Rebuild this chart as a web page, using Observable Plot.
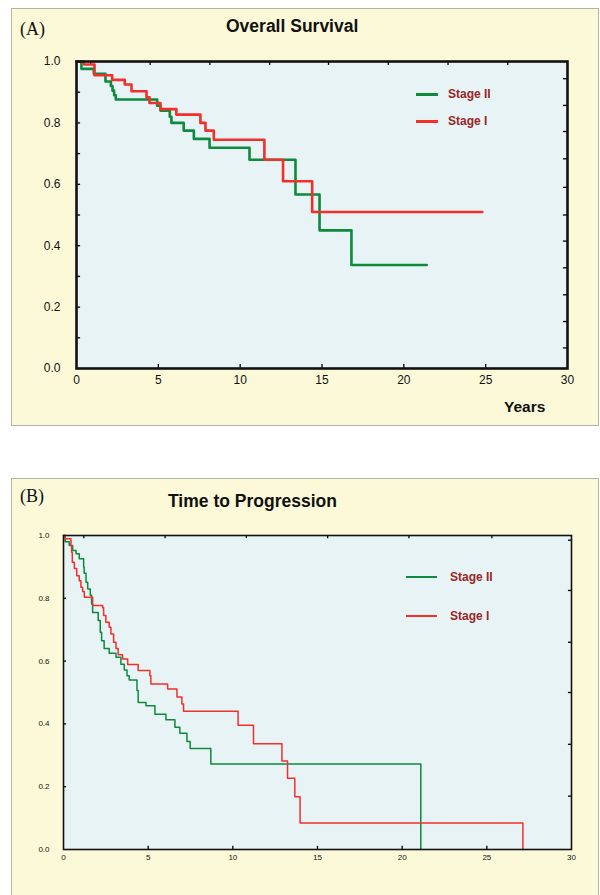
<!DOCTYPE html>
<html><head><meta charset="utf-8">
<script src="https://cdn.jsdelivr.net/npm/d3@7"></script>
<script src="https://cdn.jsdelivr.net/npm/@observablehq/plot@0.6"></script>
<style>
body{margin:0;background:#fff;}
#page{position:relative;width:600px;height:895px;overflow:hidden;font-family:"Liberation Sans",Arial,sans-serif;}
.panel{position:absolute;background:#fcf9d8;border:1px solid #b4b4a8;box-sizing:border-box;}
.lbl{position:absolute;font-family:"Liberation Serif","Times New Roman",serif;font-size:18px;line-height:20px;color:#111;}
.ttl{position:absolute;font-weight:bold;font-size:17.5px;line-height:20px;color:#111;}
.yrs{position:absolute;font-weight:bold;font-size:15.5px;line-height:18px;color:#111;}
.leg{position:absolute;height:16px;font-weight:bold;font-size:12px;color:#9a2626;display:flex;align-items:center;white-space:nowrap;}
.leg .sw{display:inline-block;height:0;border-top-style:solid;}
svg.p{position:absolute;left:0;overflow:visible;}
</style></head>
<body><div id="page"></div>
<script>
// ---------- data ----------
const seriesNames = ["Stage II", "Stage I"];
const green = "#0e8a3e", red = "#f2302b";

// (A) Overall Survival
const osStageII_t = [0, 0.3, 1.06, 1.77, 2.1, 2.2, 2.3, 2.4, 4.93, 5.13, 5.7, 5.8, 6.55, 7.17, 8.13, 10.57, 13.38, 14.85, 16.8, 21.4];
const osStageII_s = [1.0, 0.976, 0.96, 0.935, 0.92, 0.905, 0.89, 0.876, 0.856, 0.84, 0.82, 0.80, 0.775, 0.748, 0.719, 0.68, 0.567, 0.45, 0.337, 0.337];
const osStageI_t = [0, 0.45, 1.1, 2.18, 2.95, 3.36, 4.28, 4.46, 5.13, 6.1, 7.57, 7.88, 8.39, 11.48, 12.62, 14.4, 24.8];
const osStageI_s = [1.0, 0.99, 0.955, 0.94, 0.925, 0.903, 0.883, 0.865, 0.845, 0.827, 0.80, 0.775, 0.745, 0.68, 0.61, 0.51, 0.51];

// (B) Time to Progression
const ttpStageII_t = [0, 0.1, 0.34, 0.54, 0.74, 0.93, 1.19, 1.22, 1.33, 1.43, 1.58, 1.66, 1.72, 2.05, 2.17, 2.25, 2.4, 2.7, 3.1, 3.39, 3.59, 3.75, 3.88, 4.34, 4.41, 4.87, 5.4, 6.05, 6.58, 6.87, 7.29, 7.48, 8.7, 21.1];
const ttpStageII_s = [1.0, 0.98, 0.968, 0.952, 0.942, 0.926, 0.90, 0.88, 0.851, 0.83, 0.81, 0.782, 0.755, 0.729, 0.692, 0.665, 0.64, 0.625, 0.612, 0.59, 0.572, 0.553, 0.54, 0.506, 0.468, 0.458, 0.431, 0.413, 0.389, 0.37, 0.344, 0.322, 0.272, 0];
const ttpStageI_t = [0, 0.1, 0.44, 0.48, 0.52, 0.64, 0.78, 0.93, 1.03, 1.13, 1.23, 1.72, 2.31, 2.37, 2.5, 2.7, 2.8, 2.96, 3.1, 3.23, 3.49, 3.79, 4.41, 5.1, 5.16, 6.15, 6.7, 6.99, 7.09, 10.31, 11.22, 12.9, 13.23, 13.66, 13.97, 27.13];
const ttpStageI_s = [1.0, 0.99, 0.968, 0.947, 0.915, 0.895, 0.872, 0.856, 0.835, 0.822, 0.803, 0.777, 0.77, 0.745, 0.724, 0.708, 0.686, 0.66, 0.64, 0.62, 0.607, 0.589, 0.57, 0.553, 0.527, 0.511, 0.486, 0.463, 0.44, 0.396, 0.337, 0.282, 0.227, 0.168, 0.084, 0];

// tick labels
const xTicks = [0, 5, 10, 15, 20, 25, 30];
const yTicks = [0, 0.2, 0.4, 0.6, 0.8, 1.0];
// inner tick marks
const leftTicksA = [0.1, 0.2, 0.3, 0.4, 0.5, 0.6, 0.7, 0.8, 0.9];
const topTicksA = [0.86, 4.5, 8.15, 11.8, 15.4, 19.05, 22.7, 26.35];
const rightTicksA = [0.944, 0.857, 0.772, 0.683, 0.59, 0.50, 0.415, 0.328, 0.24, 0.153, 0.067];
const leftTicksB = [0.2, 0.4, 0.6, 0.8];
const topTicksB = [1.2, 6, 10.8, 15.6, 20.4, 25.3];
const rightTicksB = [0.985, 0.825, 0.66, 0.5, 0.335, 0.17];

// ---------- helpers ----------
const rows = (t, s) => t.map((d, i) => ({t: d, s: s[i]}));
const page = document.getElementById("page");
function div(cls, text, css) {
  const e = document.createElement("div");
  e.className = cls; if (text) e.textContent = text;
  Object.assign(e.style, css); page.appendChild(e); return e;
}
function legend(x, y, color, lineW, thick, gap, label) {
  const e = div("leg", null, {left: x + "px", top: (y - 8) + "px"});
  const sw = document.createElement("span");
  sw.className = "sw";
  Object.assign(sw.style, {width: lineW + "px", borderTopWidth: thick + "px", borderTopColor: color, marginRight: gap + "px"});
  e.appendChild(sw);
  e.appendChild(document.createTextNode(label));
}

function chart(o) {
  const inner = xTicks.filter(d => d > 0 && d < 30);
  const svg = Plot.plot({
    width: 600, height: o.height,
    marginTop: o.mt, marginBottom: o.mb, marginLeft: o.ml, marginRight: o.mr,
    x: {domain: [0, 30], axis: null},
    y: {domain: [0, 1], axis: null},
    style: {background: "transparent", fontSize: o.fs + "px", fontFamily: "Liberation Sans, Arial, sans-serif", color: "#111"},
    marks: [
      Plot.frame({fill: "#e7f3f5", stroke: "none"}),
      Plot.axisX(xTicks, {anchor: "bottom", tickSize: 0, tickPadding: o.xpad, tickFormat: d => String(d), label: null, fontSize: o.fs}),
      Plot.axisY(yTicks, {anchor: "left", tickSize: 0, tickPadding: o.ypad, tickFormat: d3.format(".1f"), label: null, fontSize: o.fs}),
      Plot.ruleX(inner, {x: d => d, y1: 0, y2: o.tv, stroke: "#000", strokeWidth: 1.3}),
      Plot.ruleX(o.topTicks, {x: d => d, y1: 1, y2: 1 - o.tv, stroke: "#000", strokeWidth: 1.3}),
      Plot.ruleY(o.leftTicks, {y: d => d, x1: 0, x2: o.th, stroke: "#000", strokeWidth: 1.3}),
      Plot.ruleY(o.rightTicks, {y: d => d, x1: 30, x2: 30 - o.th, stroke: "#000", strokeWidth: 1.3}),
      Plot.line(rows(o.g_t, o.g_s), {x: "t", y: "s", curve: "step-after", stroke: green, strokeWidth: o.lw}),
      Plot.line(rows(o.r_t, o.r_s), {x: "t", y: "s", curve: "step-after", stroke: red, strokeWidth: o.lw}),
      Plot.frame({stroke: "#111", strokeWidth: o.fw, fill: "none"})
    ]
  });
  svg.classList.add("p");
  svg.style.top = o.top + "px";
  page.appendChild(svg);
}

// ---------- panel A ----------
div("panel", null, {left: "11px", top: "8px", width: "588px", height: "418px"});
div("lbl", "(A)", {left: "20px", top: "19px"});
div("ttl", "Overall Survival", {left: "226px", top: "16px"});
chart({top: 0, height: 440, mt: 61, mb: 72, ml: 76, mr: 33, fs: 12, xpad: 7, ypad: 16,
  tv: 0.013, th: 0.25, topTicks: topTicksA, leftTicks: leftTicksA, rightTicks: rightTicksA,
  g_t: osStageII_t, g_s: osStageII_s, r_t: osStageI_t, r_s: osStageI_s, lw: 2.6, fw: 2.6});
div("yrs", "Years", {left: "504px", top: "398px"});
legend(416, 94, green, 22, 3, 10, seriesNames[0]);
legend(416, 121, red, 22, 3, 10, seriesNames[1]);

// ---------- panel B ----------
div("panel", null, {left: "11px", top: "478px", width: "588px", height: "440px"});
div("lbl", "(B)", {left: "20px", top: "486px"});
div("ttl", "Time to Progression", {left: "168px", top: "491px"});
chart({top: 480, height: 415, mt: 55, mb: 46, ml: 63, mr: 29, fs: 8, xpad: 5, ypad: 14,
  tv: 0.01, th: 0.18, topTicks: topTicksB, leftTicks: leftTicksB, rightTicks: rightTicksB,
  g_t: ttpStageII_t, g_s: ttpStageII_s, r_t: ttpStageI_t, r_s: ttpStageI_s, lw: 1.5, fw: 1.6});
legend(406, 577, green, 31, 2, 13, seriesNames[0]);
legend(406, 616, red, 31, 2, 13, seriesNames[1]);
</script>
</body></html>
